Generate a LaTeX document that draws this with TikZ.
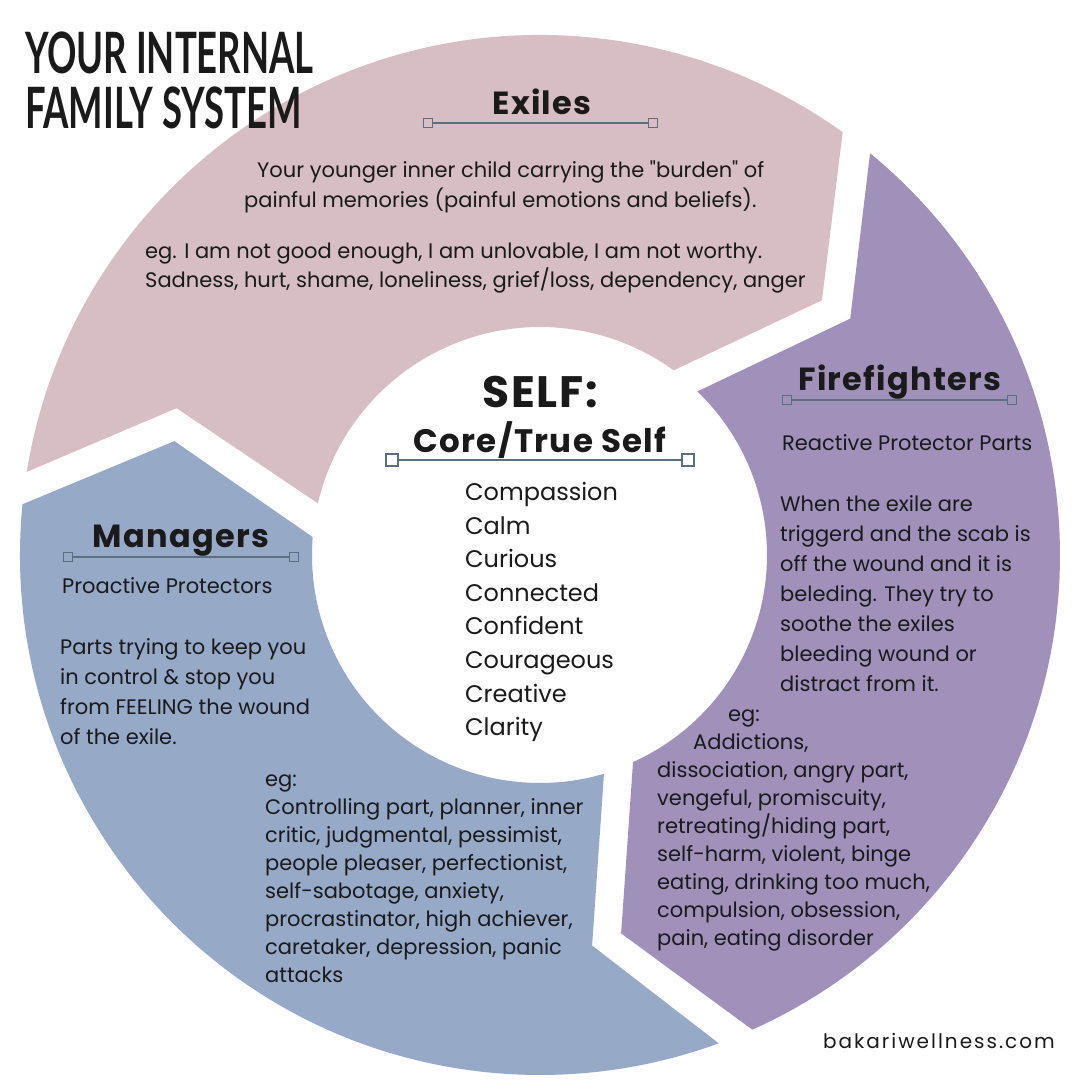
\documentclass[tikz,border=0pt]{standalone}
\usepackage{fontspec}
\setmainfont{Poppins}[Ligatures=TeXOff]
\newfontfamily\titrefont{Lato}
\newfontfamily\headfont{Poppins}[LetterSpace=4]
\newfontfamily\sitefont{Poppins}[LetterSpace=10]
\usepackage{tikz}
\usetikzlibrary{positioning, calc}
\usepackage{xcolor}
\definecolor{rosepale}{RGB}{214,190,196}
\definecolor{mauve}{RGB}{160,145,187}
\definecolor{bleugris}{RGB}{150,169,199}
\definecolor{ardoise}{RGB}{92,110,130}
\definecolor{encre}{RGB}{26,26,26}
\newcommand{\haut}{\rule{0pt}{18pt}}

\tikzset{
  texte/.style={text=encre, inner sep=0pt, align=left, font=\fontsize{21}{30}\selectfont},
  liste/.style={texte, font=\fontsize{21}{28}\selectfont},
  titre/.style={text=encre, inner sep=0pt, align=left, xscale=0.64,
    font=\titrefont\bfseries\fontsize{57}{55}\selectfont},
  entete/.style={text=encre, inner sep=0pt, font=\headfont\bfseries\fontsize{32}{32}\selectfont},
  poignee/.style={draw=ardoise, line width=0.8pt, minimum size=9pt, inner sep=0pt},
  trait/.style={draw=ardoise, line width=1.2pt}
}

\begin{document}
\begin{tikzpicture}[x=1pt, y=1pt]
  \useasboundingbox (-540,-525) rectangle (540,555);
  \fill[white] (-540,-525) rectangle (540,555);

  % exiles : arc du haut
  \fill[rosepale] (170.8:520pt) arc[start angle=170.8, end angle=54.4, radius=520pt]
    -- (42.1:380pt) -- (54.1:228pt) arc[start angle=54.1, end angle=166.9, radius=228pt]
    -- (158:392pt) -- cycle;
  % firefighters : arc de droite
  \fill[mauve] (50.6:520pt) arc[start angle=50.6, end angle=-65.9, radius=520pt]
    -- (-77.9:387pt) -- (-65.8:227pt) arc[start angle=-65.8, end angle=46.1, radius=227pt]
    -- (37.3:390pt) -- cycle;
  % managers : arc de gauche
  \fill[bleugris] (174.4:520pt) arc[start angle=174.4, end angle=290.1, radius=520pt]
    -- (277.6:394pt) -- (286.3:228pt) arc[start angle=286.3, end angle=175.5, radius=228pt]
    -- (162.7:383pt) -- cycle;

  % titre
  \node[titre, anchor=north west] (titre) at (-515,523) {YOUR INTERNAL\\FAMILY SYSTEM};

  % exiles
  \node[entete, anchor=base] (exiles) at (2,440) {Exiles};
  \node[poignee] (exg) at (-112,432) {};
  \node[poignee] (exd) at (113,432) {};
  \draw[trait] (exg) -- (exd);
  \node[texte, anchor=north west] (exdef) at (-296,396)
    {\haut\hspace*{13pt}Your younger inner child carrying the "burden" of\\
     painful memories (painful emotions and beliefs).};
  \node[texte, anchor=north west, font=\fontsize{21}{29}\selectfont] (exeg) at (-395,315)
    {\haut eg. I am not good enough, I am unlovable, I am not worthy.\\
     Sadness, hurt, shame, loneliness, grief/loss, dependency, anger};

  % firefighters
  \node[entete, anchor=base] (firefighters) at (360,165) {Firefighters};
  \node[poignee] (ffg) at (247,155) {};
  \node[poignee] (ffd) at (472,155) {};
  \draw[trait] (ffg) -- (ffd);
  \node[texte, anchor=base west] (ffsous) at (242,105) {Reactive Protector Parts};
  \node[texte, anchor=north west] (ffdef) at (240,62)
    {\haut When the exile are\\ triggerd and the scab is\\ off the wound and it is\\
     beleding. They try to\\ soothe the exiles\\ bleeding wound or\\ distract from it.};
  \node[liste, anchor=north west] (ffeg) at (117,-148)
    {\haut\hspace*{71pt}eg:\\ \hspace*{36pt}Addictions,\\ dissociation, angry part,\\
     vengeful, promiscuity,\\ retreating/hiding part,\\ self-harm, violent, binge\\
     eating, drinking too much,\\ compulsion, obsession,\\ pain, eating disorder};

  % managers
  \node[entete, anchor=base] (managers) at (-359,8) {Managers};
  \node[poignee] (mng) at (-472,-2) {};
  \node[poignee] (mnd) at (-246,-2) {};
  \draw[trait] (mng) -- (mnd);
  \node[texte, anchor=base west] (mnsous) at (-478,-38) {Proactive Protectors};
  \node[texte, anchor=north west] (mndef) at (-480,-81)
    {\haut Parts trying to keep you\\ in control \& stop you\\ from FEELING the wound\\ of the exile.};
  \node[liste, anchor=north west] (mneg) at (-275,-213)
    {\haut eg:\\ Controlling part, planner, inner\\ critic, judgmental, pessimist,\\
     people pleaser, perfectionist,\\ self-sabotage, anxiety,\\ procrastinator, high achiever,\\
     caretaker, depression, panic\\ attacks};

  % self au centre
  \node[entete, anchor=base, font=\headfont\bfseries\fontsize{44}{44}\selectfont] (self) at (0,148) {SELF:};
  \node[entete, anchor=base, font=\headfont\bfseries\fontsize{32.5}{32}\selectfont] (core) at (0,103) {Core/True Self};
  \node[poignee, minimum size=12pt, line width=1.4pt] (sfg) at (-148,95) {};
  \node[poignee, minimum size=12pt, line width=1.4pt] (sfd) at (148,95) {};
  \draw[trait, line width=1.6pt] (sfg) -- (sfd);
  \node[texte, anchor=north west, font=\fontsize{24}{33.6}\selectfont] (qualites) at (-75,73)
    {\haut Compassion\\ Calm\\ Curious\\ Connected\\ Confident\\ Courageous\\ Creative\\ Clarity};

  % site
  \node[texte, anchor=base east, font=\sitefont\fontsize{20}{20}\selectfont] (site) at (515,-493) {bakariwellness.com};
\end{tikzpicture}
\end{document}
